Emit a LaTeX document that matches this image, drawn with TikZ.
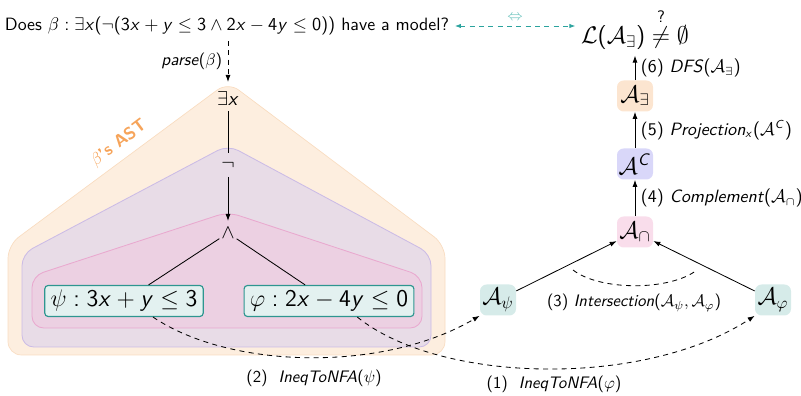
\documentclass[tikz,border=0pt]{standalone}
\usepackage{amsmath}
\usetikzlibrary{arrows.meta}
% sans-serif digits, operators and Latin letters in math; Greek and calligraphic stay serif
\DeclareSymbolFont{operators}{OT1}{cmss}{m}{n}
\DeclareSymbolFont{sfitalic}{OT1}{cmss}{m}{sl}
\DeclareMathSymbol{x}{\mathalpha}{sfitalic}{`x}
\DeclareMathSymbol{y}{\mathalpha}{sfitalic}{`y}
\DeclareMathSymbol{C}{\mathalpha}{sfitalic}{`C}

\definecolor{orFill}{HTML}{FDEEDF}
\definecolor{orLine}{HTML}{F9DCC0}
\definecolor{puFill}{HTML}{E8DCE7}
\definecolor{puLine}{HTML}{CBBBE6}
\definecolor{piFill}{HTML}{ECD0E2}
\definecolor{piLine}{HTML}{E9A8CF}
\definecolor{leafFill}{HTML}{E3F1F0}
\definecolor{leafLine}{HTML}{2E9690}
\definecolor{nfaOr}{HTML}{FCE5D0}
\definecolor{nfaPu}{HTML}{D9D7F9}
\definecolor{nfaPi}{HTML}{F9DDEB}
\definecolor{nfaTe}{HTML}{D6EBE9}
\definecolor{eqTeal}{HTML}{2BA39E}
\definecolor{eqLight}{HTML}{6CC3BE}
\definecolor{astLabel}{HTML}{F6A45A}

\newcommand{\fsz}[1]{\fontsize{#1}{1.2\dimexpr#1pt\relax}\selectfont}

\tikzset{
  astop/.style={font=\large, inner sep=1pt, minimum height=14pt},
  leaf/.style={draw=leafLine, fill=leafFill, rounded corners=2pt, line width=0.7pt,
    font=\fsz{13.3}, inner xsep=3.5pt, inner ysep=0pt, minimum height=18.6pt},
  nfa/.style={rounded corners=4pt, minimum width=21.6pt, minimum height=18.6pt,
    inner sep=1pt, font=\Large},
  flow/.style={->, line width=0.5pt},
  steplabel/.style={font=\sffamily\fsz{10}, inner sep=3.3pt},
  sidelabel/.style={font=\sffamily\fsz{10.7}, inner sep=3.3pt},
  dashedge/.style={->, dash pattern=on 3pt off 2.6pt, line width=0.5pt}
}

\begin{document}
\begin{tikzpicture}[x=0.6pt, y=-0.6pt, font=\sffamily\fsz{10.7},
  >={Latex[length=4.2pt,width=3pt]}]
\useasboundingbox (0,0) rectangle (801,396);

% nested regions of the syntax tree
\coordinate (apex) at (228,82);
\path[fill=orFill, draw=orLine, line width=0.4pt, rounded corners=8pt]
  (apex) -- (445,245) -- (445,355) -- (8,355) -- (8,245) -- cycle;
\path[fill=puFill, draw=puLine, line width=0.5pt, rounded corners=7pt]
  (228,145) -- (431,254) -- (431,347) -- (22,347) -- (22,254) -- cycle;
\path[fill=piFill, draw=piLine, line width=0.5pt, rounded corners=7pt]
  (228,212) -- (422,276) -- (422,328) -- (32,328) -- (32,276) -- cycle;
\node[rotate=37, text=astLabel, font=\sffamily\bfseries\fsz{10.4}] (astname) at (119,143) {$\beta$'s AST};

% question
\node (q) at (227,26) {Does $\beta : \exists x(\neg(3x + y \leq 3 \wedge 2x - 4y \leq 0))$ have a model?};
\node[font=\fsz{13.6}] (L) at (635,29) {$\mathcal{L}(\mathcal{A}_{\exists}) \overset{?}{\neq} \emptyset$};

\draw[eqTeal, dash pattern=on 3pt off 2.6pt, line width=0.5pt,
  {Latex[length=3.5pt,width=2.6pt]}-{Latex[length=3.5pt,width=2.6pt]}]
  (q.east) -- node[above=0pt, text=eqLight, font=\small] {$\Leftrightarrow$} (q.east -| L.west);

% syntax tree
\node[astop] (ex) at (228,99) {$\exists x$};
\node[astop] (neg) at (228,165) {$\neg$};
\node[astop] (and) at (228,233) {$\wedge$};
\node[leaf] (psi) at (124,301) {$\psi : 3x + y \leq 3$};
\node[leaf] (phi) at (329,301) {$\varphi : 2x - 4y \leq 0$};

\draw[dashedge] (q.south -| apex) -- node[left, steplabel, font=\sffamily\fsz{10.3}] {\textit{parse}$(\beta)$} (apex);
\draw[line width=0.5pt] (ex) -- (neg);
\draw[flow] (neg) -- (and);
\draw[line width=0.5pt] (and) -- (psi);
\draw[line width=0.5pt] (and) -- (phi);

% automata
\node[nfa, fill=nfaOr] (aE) at (635,96) {$\mathcal{A}_{\exists}$};
\node[nfa, fill=nfaPu] (aC) at (635,164) {$\mathcal{A}^{C}$};
\node[nfa, fill=nfaPi] (aI) at (635,232) {$\mathcal{A}_{\cap}$};
\node[nfa, fill=nfaTe] (aPsi) at (498,300) {$\mathcal{A}_{\psi}$};
\node[nfa, fill=nfaTe] (aPhi) at (773,300) {$\mathcal{A}_{\varphi}$};

\draw[flow] (aE) -- node[right, sidelabel] {(6)\ \textit{DFS}$(\mathcal{A}_{\exists})$} (aE |- L.south);
\draw[flow] (aC) -- node[right, sidelabel] {(5)\ \textit{Projection}$_{x}(\mathcal{A}^{C})$} (aE);
\draw[flow] (aI) -- node[right, sidelabel] {(4)\ \textit{Complement}$(\mathcal{A}_{\cap})$} (aC);
\draw[flow] (aPsi) -- (aI);
\draw[flow] (aPhi) -- (aI);

\coordinate (arcL) at (573,270);
\coordinate (arcR) at (697,270);
\draw[dash pattern=on 3pt off 2.6pt, line width=0.5pt]
  (arcL) .. controls (600,291) and (670,291) .. (arcR);
\node[steplabel] (lab3) at (634,303) {(3)\ \textit{Intersection}$(\mathcal{A}_{\psi}, \mathcal{A}_{\varphi})$};

% translation of each inequality into an automaton
\draw[dashedge] ([xshift=17.4pt]psi.south) .. controls +(77,52) and +(-97,57) .. (aPsi.south west);
\draw[dashedge] ([xshift=17pt]phi.south) .. controls +(83,67) and +(-110,72) .. (aPhi.south west);
\node[steplabel] (lab2) at (314,378) {(2)\ \ \textit{IneqToNFA}$(\psi)$};
\node[steplabel] (lab1) at (554,384) {(1)\ \ \textit{IneqToNFA}$(\varphi)$};
\end{tikzpicture}
\end{document}
